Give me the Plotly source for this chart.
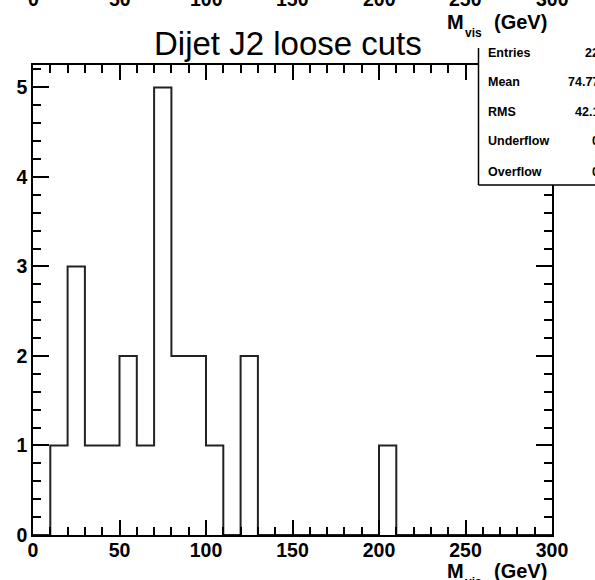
import plotly.graph_objects as go

# ---- data ----
bin_edges = list(range(0, 310, 10))          # 0..300 GeV, 30 bins of 10 GeV
counts = [0, 1, 3, 1, 1, 2, 1, 5, 2, 2,
          1, 0, 2, 0, 0, 0, 0, 0, 0, 0,
          1, 0, 0, 0, 0, 0, 0, 0, 0, 0]
x_tick_vals = [0, 50, 100, 150, 200, 250, 300]
x_tick_text = ["0", "50", "100", "150", "200", "250", "300"]
y_tick_vals = [0, 1, 2, 3, 4, 5]
stat_names = ["Entries", "Mean", "RMS", "Underflow", "Overflow"]
stat_values = ["22", "74.77", "42.1", "0", "0"]
title_text = "Dijet J2 loose cuts"

W, H = 595, 580
L, R, T, B = 33, 43, 65, 45
PW, PH = W - L - R, H - T - B


def px_x(p):
    return (p - L) / PW


def px_y(p):
    return (H - B - p) / PH


FONT = "Liberation Sans, Arial, Helvetica, sans-serif"

fig = go.Figure()
fig.add_trace(go.Scatter(
    x=bin_edges,
    y=counts + [counts[-1]],
    mode="lines",
    line=dict(shape="hv", color="#222222", width=2),
    hoverinfo="skip",
    showlegend=False,
))

axis_common = dict(
    showgrid=False, zeroline=False, automargin=False,
    showline=True, linecolor="black", linewidth=1.5,
    ticks="inside", tickcolor="black", tickwidth=1.5,
    mirror="ticks",
    tickfont=dict(family=FONT, size=19.5, color="black", weight="bold"),
)

fig.update_xaxes(
    range=[0, 300], tickvals=x_tick_vals, ticktext=x_tick_text,
    ticklen=15, ticklabelstandoff=-3,
    minor=dict(dtick=10, ticks="inside", ticklen=8, tickcolor="black", tickwidth=1.5),
    **axis_common,
)
fig.update_yaxes(
    range=[0, 5.25], tickvals=y_tick_vals,
    ticklen=16,
    minor=dict(dtick=0.2, ticks="inside", ticklen=8, tickcolor="black", tickwidth=1.5),
    **axis_common,
)

annotations = []
# title
annotations.append(dict(
    text=title_text, x=px_x(288), y=px_y(43.7), xref="paper", yref="paper",
    xanchor="center", yanchor="middle", showarrow=False,
    font=dict(family=FONT, size=33, color="black"),
))

# axis titles (bottom real one and the clipped copy at the top from the pad above)
for yc in (570.5, 22.0):
    annotations.append(dict(text="M", x=px_x(445), y=px_y(yc), xref="paper", yref="paper",
                            xanchor="left", yanchor="middle", showarrow=False,
                            font=dict(family=FONT, size=20, color="black", weight="bold")))
    annotations.append(dict(text="vis", x=px_x(463), y=px_y(yc + 11), xref="paper", yref="paper",
                            xanchor="left", yanchor="middle", showarrow=False,
                            font=dict(family=FONT, size=12, color="black", weight="bold")))
    annotations.append(dict(text="(GeV)", x=px_x(491.7), y=px_y(yc), xref="paper", yref="paper",
                            xanchor="left", yanchor="middle", showarrow=False,
                            font=dict(family=FONT, size=20, color="black", weight="bold")))

# clipped tick labels of the pad above
for v, t in zip(x_tick_vals, x_tick_text):
    annotations.append(dict(text=t, x=v, y=px_y(-1.5), xref="x", yref="paper",
                            xanchor="center", yanchor="middle", showarrow=False,
                            font=dict(family=FONT, size=19.5, color="black", weight="bold")))

# stats box
stat_y = [52.7, 82.0, 111.7, 141.0, 171.7]
for name, val, yc in zip(stat_names, stat_values, stat_y):
    annotations.append(dict(text=name, x=px_x(486), y=px_y(yc), xref="paper", yref="paper",
                            xanchor="left", yanchor="middle", showarrow=False,
                            font=dict(family=FONT, size=12.5, color="black", weight="bold")))
    annotations.append(dict(text=val, x=px_x(601), y=px_y(yc), xref="paper", yref="paper",
                            xanchor="right", yanchor="middle", showarrow=False,
                            font=dict(family=FONT, size=12.5, color="black", weight="bold")))

shapes = [
    dict(type="rect", xref="paper", yref="paper", x0=px_x(478.5), x1=px_x(640),
         y0=px_y(185), y1=px_y(48), fillcolor="white", line=dict(width=0), layer="above"),
    dict(type="line", xref="paper", yref="paper", x0=px_x(478.5), x1=px_x(478.5),
         y0=px_y(185), y1=px_y(48), line=dict(color="black", width=1.5), layer="above"),
    dict(type="line", xref="paper", yref="paper", x0=px_x(478.5), x1=px_x(640),
         y0=px_y(185), y1=px_y(185), line=dict(color="black", width=1.5), layer="above"),
]

fig.update_layout(
    width=W, height=H,
    margin=dict(l=L, r=R, t=T, b=B, pad=0),
    paper_bgcolor="white", plot_bgcolor="white",
    showlegend=False,
    annotations=annotations,
    shapes=shapes,
)

fig.write_html(
    "out.html",
    config={"displayModeBar": False},
    post_script="document.body.style.margin='0';document.body.style.overflow='hidden';",
)
